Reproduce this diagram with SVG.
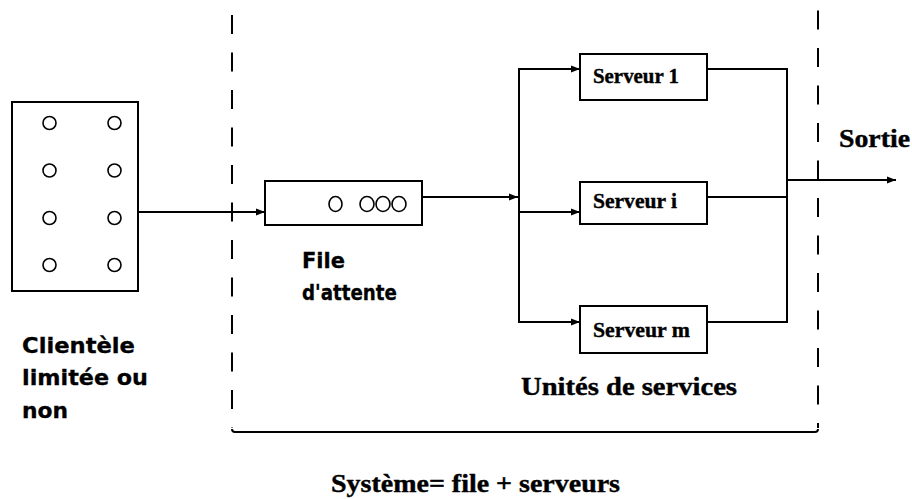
<svg xmlns="http://www.w3.org/2000/svg" width="912" height="499" viewBox="0 0 912 499">
  <defs>
    <marker id="arrow" markerWidth="10" markerHeight="8" refX="9" refY="4" orient="auto" markerUnits="userSpaceOnUse">
      <path d="M0,0.5 L9,4 L0,7.5 Z" fill="#000"/>
    </marker>
    <style>
      .box { fill: #fff; stroke: #000; stroke-width: 2; }
      .dot { fill: none; stroke: #000; stroke-width: 1.6; }
      .wire { fill: none; stroke: #000; stroke-width: 2; }
      .bound { fill: none; stroke: #000; stroke-width: 2; stroke-dasharray: 19 18.5; }
      .sans { font-family: "DejaVu Sans", "Liberation Sans", sans-serif; font-weight: bold; font-size: 21px; fill: #000; stroke: #000; stroke-width: 0.3; }
      .serif { font-family: "Liberation Serif", "DejaVu Serif", serif; font-weight: bold; fill: #000; stroke: #000; stroke-width: 0.4; }
    </style>
  </defs>
  <rect width="912" height="499" fill="#fff"/>

  <!-- system boundary -->
  <g id="boundary">
    <line class="bound" x1="232" y1="15" x2="232" y2="428"/>
    <line class="bound" x1="818" y1="10.5" x2="818" y2="428"/>
    <path class="wire" d="M232,429 Q232,432 235,432 H815 Q818,432 818,429"/>
  </g>

  <!-- source population -->
  <g id="clients">
    <rect class="box" x="12" y="102" width="126" height="189"/>
    <circle class="dot" cx="49.5" cy="123" r="6.5"/>
    <circle class="dot" cx="114.5" cy="123" r="6.5"/>
    <circle class="dot" cx="49.5" cy="170.5" r="6.5"/>
    <circle class="dot" cx="114.5" cy="170.5" r="6.5"/>
    <circle class="dot" cx="49.5" cy="218" r="6.5"/>
    <circle class="dot" cx="114.5" cy="218" r="6.5"/>
    <circle class="dot" cx="49.5" cy="265" r="6.5"/>
    <circle class="dot" cx="114.5" cy="265" r="6.5"/>
    <text class="sans" x="22" y="353" textLength="113" lengthAdjust="spacingAndGlyphs">Clientèle</text>
    <text class="sans" x="22" y="385" textLength="126" lengthAdjust="spacingAndGlyphs">limitée ou</text>
    <text class="sans" x="22" y="418" textLength="46" lengthAdjust="spacingAndGlyphs">non</text>
  </g>

  <!-- waiting queue -->
  <g id="queue">
    <rect class="box" x="265" y="181" width="157" height="44"/>
    <ellipse class="dot" cx="335.5" cy="204" rx="6.5" ry="7.5"/>
    <ellipse class="dot" cx="367" cy="204" rx="7" ry="7.5"/>
    <ellipse class="dot" cx="383" cy="204" rx="7" ry="7.5"/>
    <ellipse class="dot" cx="399" cy="204" rx="7" ry="7.5"/>
    <text class="sans" x="302" y="268" textLength="43" lengthAdjust="spacingAndGlyphs">File</text>
    <text class="sans" x="302" y="300" textLength="95" lengthAdjust="spacingAndGlyphs">d'attente</text>
  </g>

  <!-- servers -->
  <g id="server1">
    <rect class="box" x="580" y="54" width="127" height="46"/>
    <text class="serif" x="593" y="83" font-size="21" textLength="86" lengthAdjust="spacingAndGlyphs">Serveur 1</text>
  </g>
  <g id="serveri">
    <rect class="box" x="580" y="182" width="127" height="42"/>
    <text class="serif" x="593" y="208" font-size="21" textLength="84" lengthAdjust="spacingAndGlyphs">Serveur i</text>
  </g>
  <g id="serverm">
    <rect class="box" x="580" y="306" width="127" height="47"/>
    <text class="serif" x="593" y="337" font-size="21" textLength="97" lengthAdjust="spacingAndGlyphs">Serveur m</text>
  </g>

  <!-- labels -->
  <g id="labels">
    <text class="serif" x="839" y="147" font-size="25" textLength="71" lengthAdjust="spacingAndGlyphs">Sortie</text>
    <text class="serif" x="521" y="395" font-size="25" textLength="216" lengthAdjust="spacingAndGlyphs">Unités de services</text>
    <text class="serif" x="331" y="492" font-size="25" textLength="289" lengthAdjust="spacingAndGlyphs">Système= file + serveurs</text>
  </g>

  <!-- connectors -->
  <g id="connectors">
    <line class="wire" x1="138" y1="212" x2="265" y2="212" marker-end="url(#arrow)"/>
    <line class="wire" x1="422" y1="197" x2="518" y2="197" marker-end="url(#arrow)"/>
    <line class="wire" x1="519" y1="68" x2="519" y2="323"/>
    <polyline class="wire" points="519,69 580,69" marker-end="url(#arrow)"/>
    <polyline class="wire" points="519,212 580,212" marker-end="url(#arrow)"/>
    <polyline class="wire" points="519,322 580,322" marker-end="url(#arrow)"/>
    <line class="wire" x1="707" y1="69" x2="787" y2="69"/>
    <line class="wire" x1="707" y1="197" x2="787" y2="197"/>
    <line class="wire" x1="707" y1="322" x2="787" y2="322"/>
    <line class="wire" x1="787" y1="68" x2="787" y2="323"/>
    <line class="wire" x1="787" y1="180" x2="896" y2="180" marker-end="url(#arrow)"/>
  </g>
</svg>
